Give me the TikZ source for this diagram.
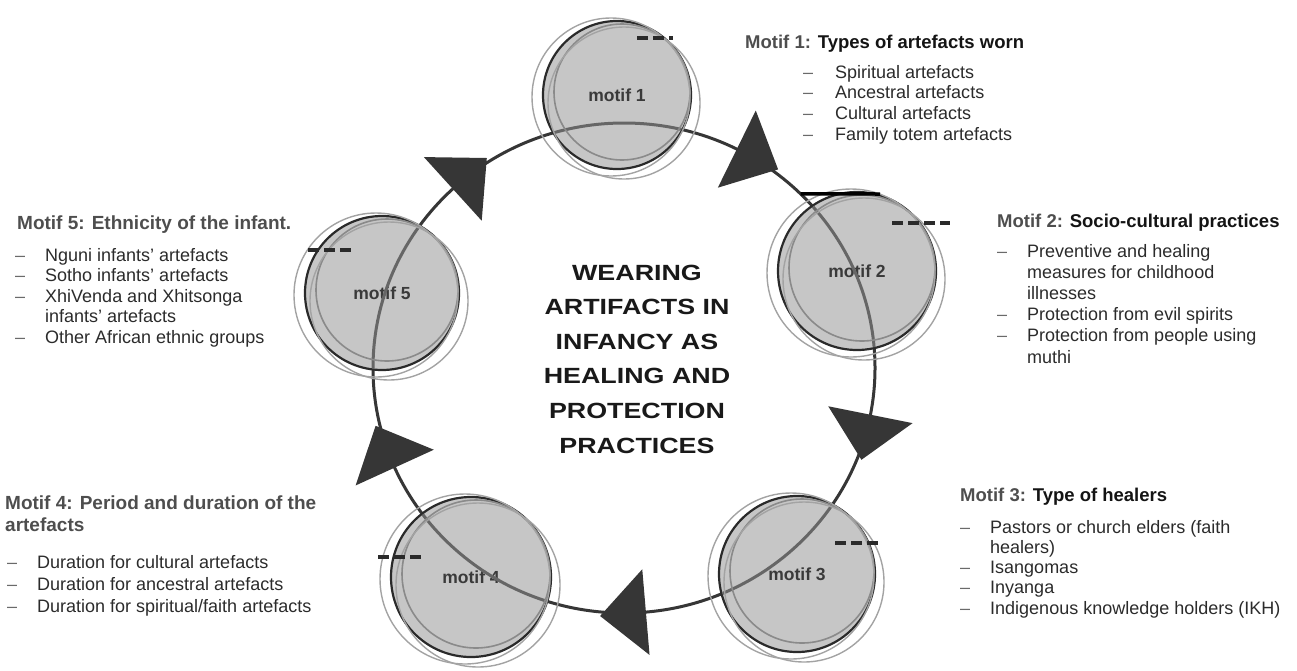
\documentclass[tikz,border=0pt]{standalone}
\usepackage{fontspec}
\setmainfont{Liberation Sans}
\newfontfamily\titlefont[FakeStretch=1.22]{Liberation Sans}
\usetikzlibrary{calc}
\definecolor{discfill}{HTML}{C6C6C6}
\definecolor{ringdark}{HTML}{2A2A2A}
\definecolor{ringmid}{HTML}{8A8A8A}
\definecolor{ringlight}{HTML}{A3A3A3}
\definecolor{cycledark}{HTML}{363636}
\definecolor{cycleinner}{HTML}{666666}
\definecolor{bodytext}{HTML}{2B2B2B}
\definecolor{headgray}{HTML}{4E4E4E}
\definecolor{dashgray}{HTML}{6A6A6A}
\definecolor{labeltext}{HTML}{3A3A3A}
\newcommand\itemdash{\textcolor{dashgray}{–}}
\begin{document}
\begin{tikzpicture}[x=1pt,y=-1pt,
  motif/.style={circle, inner sep=0pt, fill=discfill, draw=ringdark, line width=2.2pt,
    font=\bfseries\fontsize{17.5}{20}\selectfont, text=labeltext},
  ringA/.style={draw=ringmid, line width=1.6pt},
  ringB/.style={draw=ringlight, line width=1.4pt},
  cyc/.style={draw=cycledark, line width=3pt},
  cycin/.style={draw=cycleinner, line width=3pt},
  arrowfill/.style={fill=cycledark},
  dashbar/.style={draw=ringdark, line width=3.2pt, dash pattern=on 11pt off 5pt},
  head/.style={anchor=base west, inner sep=0pt, text=black!92, font=\bfseries\fontsize{18.5}{21}\selectfont},
  headg/.style={anchor=base west, inner sep=0pt, text=headgray, font=\bfseries\fontsize{19}{22}\selectfont},
  items/.style={anchor=base west, inner sep=0pt, text=bodytext, font=\fontsize{18}{#1}\selectfont},
  items/.default=20.8,
  title/.style={anchor=base, inner sep=0pt, text=black!90, font=\titlefont\bfseries\fontsize{22}{34.6}\selectfont}
]
\useasboundingbox (0,0) rectangle (1297,670);
\coordinate (cc) at (624,368);
% cycle line
\draw[cyc] (cc) ellipse [x radius=251pt, y radius=245pt];
% motif circles
\node[motif, minimum size=148pt] (m1) at (617,95) {motif 1};
\node[motif, minimum size=158pt] (m2) at (857,271) {motif 2};
\node[motif, minimum size=156pt] (m3) at (797,574) {motif 3};
\node[motif, minimum size=160pt] (m4) at (471,577) {motif 4};
\node[motif, minimum size=154pt] (m5) at (382,293) {motif 5};
% cycle line seen through the discs
\begin{scope}
  \clip (m1.center) circle (73pt) (m2.center) circle (78pt) (m3.center) circle (77pt)
        (m4.center) circle (79pt) (m5.center) circle (76pt);
  \draw[cycin] (cc) ellipse [x radius=251pt, y radius=245pt];
\end{scope}
% sketchy rings
\foreach \n/\r in {m1/74, m2/79, m3/78, m4/80, m5/77} {
  \draw[ringA] ($(\n.center)+(5,-3)$) circle [radius={(\r-6)*1pt}];
  \draw[ringB] ($(\n.center)+(-6,2)$) circle [radius={(\r+5)*1pt}];
  \draw[ringB] ($(\n.center)+(7,8)$) circle [radius={(\r+2)*1pt}];
}
% dashed marks
\draw[dashbar] ($(m1.center)+(20,-57)$) -- ++(36,0);
\draw[dashbar] ($(m2.center)+(35,-48)$) -- ++(58,0);
\draw[dashbar] ($(m3.center)+(38,-31)$) -- ++(43,0);
\draw[dashbar] ($(m4.center)+(-93,-20)$) -- ++(45,0);
\draw[dashbar] ($(m5.center)+(-74,-43)$) -- ++(44,0);
% black segment on top of motif 2
\coordinate (k1) at (800.6,193.9);
\coordinate (k2) at (880,194);
\draw[line width=3.5pt, black] (k1) -- (k2);
% arrowheads
\coordinate (b12) at (736.8,149.1); \coordinate (t12) at (778.1,169.4);
\coordinate (b23) at (870.4,414.7); \coordinate (t23) at (861.4,459.8);
\coordinate (b34) at (645.9,612.1); \coordinate (t34) at (600.1,616.0);
\coordinate (b45) at (394.7,467.6); \coordinate (t45) at (375.6,425.8);
\coordinate (b51) at (452.8,188.9); \coordinate (t51) at (486.8,158.0);
\foreach \a in {12,23,34,45,51} {
  \fill[arrowfill] ($(b\a)!43pt!90:(t\a)$) -- (t\a) -- ($(b\a)!43pt!-90:(t\a)$) -- cycle;
}
% centre title
\node[title] (ttl) at (637,280) {\begin{tabular}[t]{@{}c@{}}WEARING\\ARTIFACTS IN\\INFANCY AS\\HEALING AND\\PROTECTION\\PRACTICES\end{tabular}};
% motif 1 text
\node[head] (h1) at (745,48) {\textcolor{headgray}{Motif 1:} Types of artefacts worn};
\node[items] (l1) at (803,78) {\begin{tabular}[t]{@{}p{32pt}@{}l@{}}
\itemdash & Spiritual artefacts\\ \itemdash & Ancestral artefacts\\
\itemdash & Cultural artefacts\\ \itemdash & Family totem artefacts\end{tabular}};
% motif 2 text
\node[head] (h2) at (997,227) {\textcolor{headgray}{Motif 2:} Socio-cultural practices};
\node[items=21.2] (l2) at (997,257) {\begin{tabular}[t]{@{}p{30pt}@{}l@{}}
\itemdash & Preventive and healing\\ & measures for childhood\\ & illnesses\\
\itemdash & Protection from evil spirits\\ \itemdash & Protection from people using\\ & muthi\end{tabular}};
% motif 3 text
\node[head] (h3) at (960,501) {\textcolor{headgray}{Motif 3:} Type of healers};
\node[items=20.3] (l3) at (960,533) {\begin{tabular}[t]{@{}p{30pt}@{}l@{}}
\itemdash & Pastors or church elders (faith\\ & healers)\\ \itemdash & Isangomas\\
\itemdash & Inyanga\\ \itemdash & Indigenous knowledge holders (IKH)\end{tabular}};
% motif 4 text
\node[headg] (h4) at (5,509) {\begin{tabular}[t]{@{}l@{}}Motif 4: Period and duration of the\\artefacts\end{tabular}};
\node[items=22] (l4) at (7,568) {\begin{tabular}[t]{@{}p{30pt}@{}l@{}}
\itemdash & Duration for cultural artefacts\\ \itemdash & Duration for ancestral artefacts\\
\itemdash & Duration for spiritual/faith artefacts\end{tabular}};
% motif 5 text
\node[headg] (h5) at (17,229) {Motif 5: Ethnicity of the infant.};
\node[items=20.5] (l5) at (15,261) {\begin{tabular}[t]{@{}p{30pt}@{}l@{}}
\itemdash & Nguni infants' artefacts\\ \itemdash & Sotho infants' artefacts\\
\itemdash & XhiVenda and Xhitsonga\\ & infants' artefacts\\ \itemdash & Other African ethnic groups\end{tabular}};
\end{tikzpicture}
\end{document}
